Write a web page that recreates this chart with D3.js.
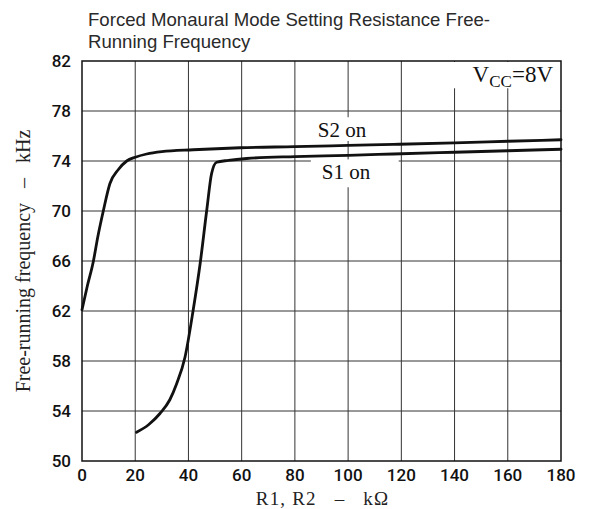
<!DOCTYPE html>
<html>
<head>
<meta charset="utf-8">
<script src="https://cdn.jsdelivr.net/npm/d3@7"></script>
<style>
html,body{margin:0;padding:0;background:#fff;}
svg{display:block;}
</style>
</head>
<body>
<svg id="chart" width="602" height="509"></svg>
<script>
const titleLines = ["Forced Monaural Mode Setting Resistance Free-", "Running Frequency"];
const xTicks = [0, 20, 40, 60, 80, 100, 120, 140, 160, 180];
const yTicks = [50, 54, 58, 62, 66, 70, 74, 78, 82];
const xLabel = "R1, R2   \u2013   k\u03A9";
const yLabel = "Free-running frequency   \u2013   kHz";

// S2 on curve (R in kΩ, frequency in kHz)
const s2R = [0, 2, 4.2, 6, 8, 10.5, 13.6, 16.8, 20, 24.3, 30, 41.8, 59.4, 80, 100, 117, 140, 160, 180];
const s2F = [62.1, 64, 65.9, 68, 70, 72.2, 73.3, 74.0, 74.3, 74.56, 74.75, 74.9, 75.06, 75.15, 75.25, 75.33, 75.45, 75.58, 75.7];
// S1 on curve
const s1R = [20.5, 25, 29.3, 33, 35.6, 38.7, 41.8, 44.4, 46.9, 48.7, 50.6, 55, 61.9, 80, 100, 117, 140, 160, 180];
const s1F = [52.3, 52.9, 53.8, 54.9, 56.2, 58.3, 62.1, 65.8, 70.1, 73.0, 73.9, 74.05, 74.2, 74.35, 74.45, 74.56, 74.7, 74.82, 74.94];

const svg = d3.select("#chart");
const L = 82, R = 561, T = 61, B = 461;
const x = d3.scaleLinear().domain([0, 180]).range([L, R]);
const y = d3.scaleLinear().domain([50, 82]).range([B, T]);

// title
svg.append("text").attr("x", 88).attr("y", 26)
  .attr("font-family", "Liberation Sans, Arial, sans-serif").attr("font-size", 18.6).attr("fill", "#2a2a2a")
  .selectAll("tspan").data(titleLines).join("tspan")
  .attr("x", 88).attr("dy", (d, i) => i === 0 ? 0 : 21.5).text(d => d);

// grid
const grid = svg.append("g").attr("stroke", "#333").attr("stroke-width", 1);
grid.selectAll("line.v").data(xTicks.slice(1, -1)).join("line").attr("class", "v")
  .attr("x1", d => x(d)).attr("x2", d => x(d)).attr("y1", T).attr("y2", B);
grid.selectAll("line.h").data(yTicks.slice(1, -1)).join("line").attr("class", "h")
  .attr("x1", L).attr("x2", R).attr("y1", d => y(d)).attr("y2", d => y(d));

// gaps in grid around annotations (white masks)
const masks = svg.append("g").attr("fill", "#fff");
masks.append("rect").attr("x", x(125)).attr("y", T + 1).attr("width", x(170) - x(125)).attr("height", y(79.9) - T);
masks.append("rect").attr("x", x(86)).attr("y", y(74) - 1.5).attr("width", x(119) - x(86)).attr("height", 3);
masks.append("rect").attr("x", x(95)).attr("y", y(77.5)).attr("width", x(105) - x(95)).attr("height", y(75.6) - y(77.5));
masks.append("rect").attr("x", x(95)).attr("y", y(74.1)).attr("width", x(105) - x(95)).attr("height", y(71.9) - y(74.1));

// border
svg.append("rect").attr("x", L).attr("y", T).attr("width", R - L).attr("height", B - T)
  .attr("fill", "none").attr("stroke", "#111").attr("stroke-width", 1.5);

// tick labels
const tickFont = "Roboto, Liberation Sans, Arial, sans-serif";
svg.append("g").selectAll("text").data(yTicks).join("text")
  .attr("x", 71).attr("y", d => y(d)).attr("dy", "0.36em").attr("text-anchor", "end")
  .attr("font-family", tickFont).attr("font-size", 17).attr("font-weight", 500).attr("fill", "#111")
  .text(d => d);
svg.append("g").selectAll("text").data(xTicks).join("text")
  .attr("x", d => x(d)).attr("y", 481).attr("text-anchor", "middle")
  .attr("font-family", tickFont).attr("font-size", 17).attr("font-weight", 500).attr("fill", "#111")
  .text(d => d);

// axis titles
const serif = "Liberation Serif, Times New Roman, serif";
svg.append("text").attr("x", (L + R) / 2 + 1).attr("y", 505).attr("text-anchor", "middle")
  .attr("font-family", serif).attr("font-size", 19).attr("letter-spacing", 1.2).attr("fill", "#222")
  .style("white-space", "pre").text(xLabel);
svg.append("text").attr("transform", `translate(30,${(T + B) / 2}) rotate(-90)`).attr("text-anchor", "middle")
  .attr("font-family", serif).attr("font-size", 20).attr("fill", "#222")
  .style("white-space", "pre").text(yLabel);

// curves
const line = d3.line().x(d => x(d[0])).y(d => y(d[1])).curve(d3.curveMonotoneX);
const curves = [d3.zip(s2R, s2F), d3.zip(s1R, s1F)];
svg.append("g").selectAll("path").data(curves).join("path")
  .attr("d", line).attr("fill", "none").attr("stroke", "#111").attr("stroke-width", 2.8)
  .attr("stroke-linejoin", "round").attr("stroke-linecap", "round");

// annotations
svg.append("text").attr("x", 342).attr("y", 137).attr("text-anchor", "middle")
  .attr("font-family", serif).attr("font-size", 21).attr("fill", "#111").text("S2 on");
svg.append("text").attr("x", 346).attr("y", 179).attr("text-anchor", "middle")
  .attr("font-family", serif).attr("font-size", 21).attr("fill", "#111").text("S1 on");
const vcc = svg.append("text").attr("x", 553).attr("y", 82).attr("text-anchor", "end")
  .attr("font-family", serif).attr("font-size", 23).attr("fill", "#111");
vcc.append("tspan").text("V");
vcc.append("tspan").attr("dy", 5).attr("font-size", 17).text("CC");
vcc.append("tspan").attr("dy", -5).text("=8V");
</script>
</body>
</html>
